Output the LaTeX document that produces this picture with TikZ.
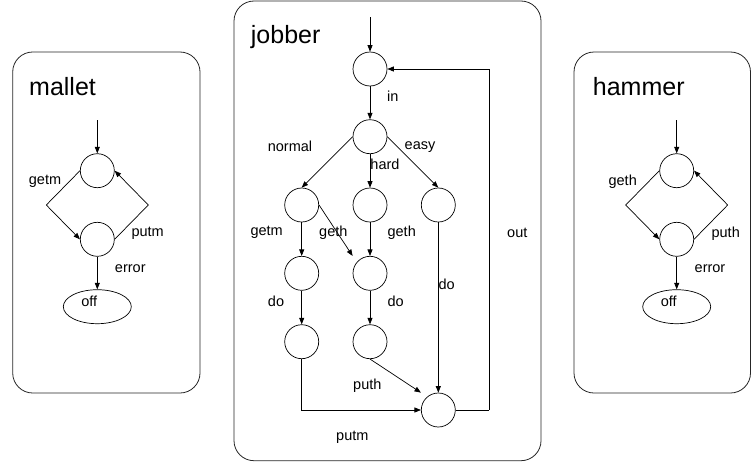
\documentclass[tikz,border=0pt]{standalone}
\usepackage{fontspec}
\setmainfont{Liberation Sans}
\usetikzlibrary{arrows.meta,shapes.geometric}
\begin{document}
\begin{tikzpicture}[x=1pt,y=-1pt,
  frame/.style={draw=black!85,line width=0.8pt,rounded corners=20pt},
  title/.style={anchor=base west,inner sep=0pt,font=\fontsize{25}{28}\selectfont},
  state/.style={circle,draw,line width=0.7pt,minimum size=34pt,inner sep=0pt},
  final/.style={ellipse,draw,line width=0.7pt,minimum width=68pt,minimum height=34pt,inner sep=0pt},
  lbl/.style={inner sep=0pt,font=\fontsize{14.5}{16}\selectfont},
  edge/.style={line width=0.7pt,-{Triangle[length=6.5pt,width=5pt]}},
  plain/.style={line width=0.7pt}]
\useasboundingbox (0,0) rectangle (751,463);

% ---------- mallet ----------
\draw[frame] (12.7,52) rectangle (200,393);
\node[title] (tm) at (29,95) {mallet};
\node[state] (m0) at (97.3,170.7) {};
\node[state] (m1) at (97.3,239.3) {};
\node[final] (moff) at (97.3,306.7) {};
\node[lbl] (moffl) at (89.3,301.7) {off};
\coordinate (mstart) at (97.3,120);
\coordinate (ml) at (46.3,205);
\coordinate (mr) at (148.3,205);
\draw[edge] (mstart) -- (m0);
\draw[plain] (m0.west) -- (ml);
\draw[edge] (ml) -- (m1.west);
\draw[plain] (m1.east) -- (mr);
\draw[edge] (mr) -- (m0.east);
\draw[edge] (m1) -- (moff);
\node[lbl] (mgetm) at (45,181.7) {getm};
\node[lbl] (mputm) at (147.7,233.3) {putm};
\node[lbl] (merr) at (130.3,268.3) {error};

% ---------- hammer ----------
\draw[frame] (574,52) rectangle (750.5,393);
\node[title] (th) at (592.7,95) {hammer};
\node[state] (h0) at (676.7,170.7) {};
\node[state] (h1) at (676.7,239.3) {};
\node[final] (hoff) at (676.7,306.7) {};
\node[lbl] (hoffl) at (668.7,301.7) {off};
\coordinate (hstart) at (676.7,120);
\coordinate (hl) at (625.7,205);
\coordinate (hr) at (727.7,205);
\draw[edge] (hstart) -- (h0);
\draw[plain] (h0.west) -- (hl);
\draw[edge] (hl) -- (h1.west);
\draw[plain] (h1.east) -- (hr);
\draw[edge] (hr) -- (h0.east);
\draw[edge] (h1) -- (hoff);
\node[lbl] (hgeth) at (622.7,181.7) {geth};
\node[lbl] (hputh) at (725.7,233.3) {puth};
\node[lbl] (herr) at (710,268.3) {error};

% ---------- jobber ----------
\draw[frame] (234,1) rectangle (541,460.7);
\node[title] (tj) at (250.7,43) {jobber};
\node[state] (q0) at (370,69) {};
\node[state] (q1) at (370,136.7) {};
\node[state] (qa) at (301.7,205) {};
\node[state] (qb) at (370,205) {};
\node[state] (qc) at (438.3,205) {};
\node[state] (qd) at (301.7,273.3) {};
\node[state] (qe) at (370,273.3) {};
\node[state] (qf) at (301.7,341.7) {};
\node[state] (qg) at (370,341.7) {};
\node[state] (qh) at (438.3,410) {};
\coordinate (jstart) at (370,17);
\coordinate (jret) at (489.3,410);

\draw[edge] (jstart) -- (q0);
\draw[edge] (q0) -- (q1);
\draw[edge] (q1.west) -- (qa.north);
\draw[edge] (q1) -- (qb);
\draw[edge] (q1.east) -- (qc.north);
\draw[edge] (qa) -- (qd);
\draw[edge] (qa.east) -- (qe.north -| qe.west);
\draw[edge] (qb) -- (qe);
\draw[edge] (qd) -- (qf);
\draw[edge] (qe) -- (qg);
\draw[edge] (qc) -- (qh);
\draw[edge] (qg.south) -- (qh.north -| qh.west);
\draw[edge] (qf.south) |- (qh.west);
\draw[plain] (qh.east) -- (jret);
\draw[edge] (jret) |- (q0.east);

\node[lbl] (jin) at (392.7,96.7) {in};
\node[lbl] (jnormal) at (290,146.7) {normal};
\node[lbl] (jeasy) at (420,146.7) {easy};
\node[lbl] (jhard) at (385,164.3) {hard};
\node[lbl] (jgetm) at (266.7,232.7) {getm};
\node[lbl] (jgeth1) at (333.3,232.7) {geth};
\node[lbl] (jgeth2) at (401.7,232.7) {geth};
\node[lbl] (jout) at (517.3,232.7) {out};
\node[lbl] (jdo1) at (276,301.7) {do};
\node[lbl] (jdo2) at (395.7,301.7) {do};
\node[lbl] (jdo3) at (446.7,284) {do};
\node[lbl] (jputh) at (367.3,386) {puth};
\node[lbl] (jputm) at (352.3,437.3) {putm};
\end{tikzpicture}
\end{document}
